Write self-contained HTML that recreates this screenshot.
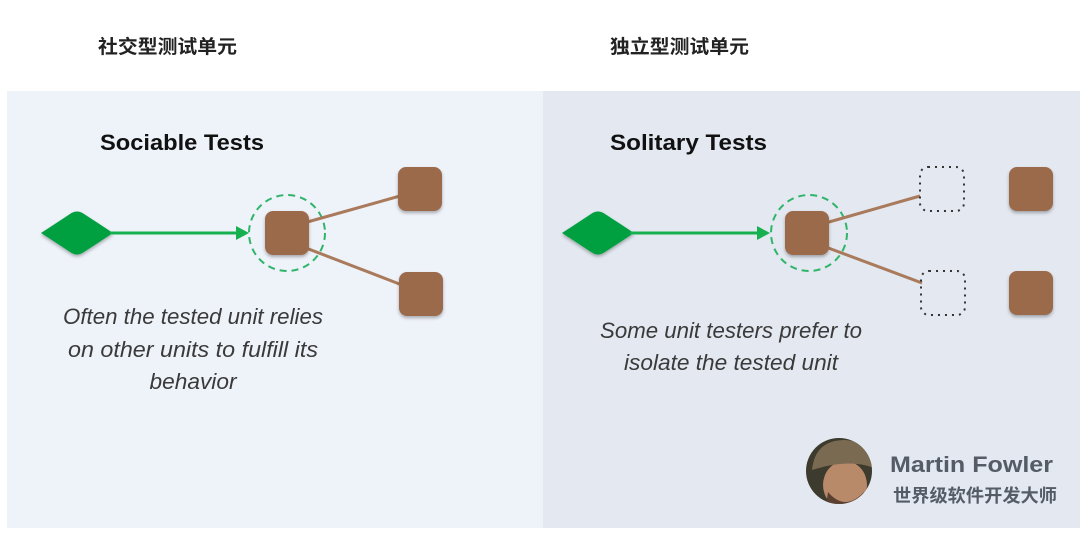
<!DOCTYPE html>
<html><head><meta charset="utf-8"><style>
html,body{margin:0;padding:0;background:#fff;}
svg{display:block;}
</style></head><body>
<svg width="1089" height="544" viewBox="0 0 1089 544" xmlns="http://www.w3.org/2000/svg">
<defs>
<filter id="sh" x="-30%" y="-30%" width="160%" height="170%"><feDropShadow dx="0" dy="2" stdDeviation="1.5" flood-color="#000" flood-opacity="0.3"/></filter>
<clipPath id="pc"><circle cx="839" cy="471" r="33"/></clipPath>
</defs>
<rect x="0" y="0" width="1089" height="544" fill="#fff"/>
<rect x="7" y="91" width="536" height="437" fill="#eef2f9"/>
<rect x="543" y="91" width="537" height="437" fill="#e3e8f1"/>
<g font-family="'Liberation Sans','Noto Sans CJK SC',sans-serif" font-weight="bold" font-size="19" fill="#222">
<text x="98" y="53" textLength="139" lengthAdjust="spacingAndGlyphs">社交型测试单元</text>
<text x="610" y="53" textLength="139" lengthAdjust="spacingAndGlyphs">独立型测试单元</text>
</g>
<g font-family="'Liberation Sans',sans-serif" font-weight="bold" font-size="22" fill="#111">
<text x="100" y="150" textLength="164" lengthAdjust="spacingAndGlyphs">Sociable Tests</text>
<text x="610" y="150" textLength="157" lengthAdjust="spacingAndGlyphs">Solitary Tests</text>
</g>
<!-- left diagram -->
<path d="M41 233 Q58 222 70 214 Q77 209 84 214 Q98 223 113 233 Q98 243 84 252 Q77 257 70 252 Q58 244 41 233Z" fill="#06a040" filter="url(#sh)"/>
<line x1="110" y1="233" x2="236" y2="233" stroke="#17b04f" stroke-width="3"/>
<polygon points="236,226 249,233 236,240" fill="#17b04f"/>
<circle cx="287" cy="233" r="38" fill="none" stroke="#2fb56a" stroke-width="2" stroke-dasharray="7,5"/>
<line x1="293" y1="226" x2="400" y2="196" stroke="#a97a5b" stroke-width="3"/>
<line x1="293" y1="243" x2="402" y2="285" stroke="#a97a5b" stroke-width="3"/>
<rect x="265" y="211" width="44" height="44" rx="8" fill="#9b6a4c" filter="url(#sh)"/>
<rect x="398" y="167" width="44" height="44" rx="8" fill="#9b6a4c" filter="url(#sh)"/>
<rect x="399" y="272" width="44" height="44" rx="8" fill="#9b6a4c" filter="url(#sh)"/>
<!-- right diagram -->
<path d="M562 233 Q579 222 591 214 Q598 209 605 214 Q619 223 634 233 Q619 243 605 252 Q598 257 591 252 Q579 244 562 233Z" fill="#06a040" filter="url(#sh)"/>
<line x1="630" y1="233" x2="757" y2="233" stroke="#17b04f" stroke-width="3"/>
<polygon points="757,226 770,233 757,240" fill="#17b04f"/>
<circle cx="809" cy="233" r="38" fill="none" stroke="#2fb56a" stroke-width="2" stroke-dasharray="7,5"/>
<line x1="815" y1="226" x2="920" y2="196" stroke="#a97a5b" stroke-width="3"/>
<line x1="815" y1="243" x2="922" y2="283" stroke="#a97a5b" stroke-width="3"/>
<rect x="785" y="211" width="44" height="44" rx="8" fill="#9b6a4c" filter="url(#sh)"/>
<rect x="920" y="167" width="44" height="44" rx="8" fill="none" stroke="#333" stroke-width="2" stroke-dasharray="2,5"/>
<rect x="921" y="271" width="44" height="44" rx="8" fill="none" stroke="#333" stroke-width="2" stroke-dasharray="2,5"/>
<rect x="1009" y="167" width="44" height="44" rx="8" fill="#9b6a4c" filter="url(#sh)"/>
<rect x="1009" y="271" width="44" height="44" rx="8" fill="#9b6a4c" filter="url(#sh)"/>
<!-- italic text -->
<g font-family="'Liberation Sans',sans-serif" font-style="italic" font-size="22" fill="#3a3a3a" text-anchor="middle">
<text x="193" y="324" textLength="260" lengthAdjust="spacingAndGlyphs">Often the tested unit relies</text>
<text x="193" y="357" textLength="250" lengthAdjust="spacingAndGlyphs">on other units to fulfill its</text>
<text x="193" y="389" textLength="87" lengthAdjust="spacingAndGlyphs">behavior</text>
<text x="731" y="338" textLength="262" lengthAdjust="spacingAndGlyphs">Some unit testers prefer to</text>
<text x="731" y="370" textLength="214" lengthAdjust="spacingAndGlyphs">isolate the tested unit</text>
</g>
<!-- avatar -->
<g clip-path="url(#pc)">
<rect x="806" y="438" width="66" height="66" fill="#3d3a2e"/>
<ellipse cx="845" cy="485" rx="22" ry="24" fill="#b98a6a"/>
<path d="M812 470 Q815 440 845 440 Q872 442 874 468 Q850 458 812 470Z" fill="#7a6a52"/>
<path d="M828 492 Q845 512 864 492 L866 506 L826 506Z" fill="#5a4030"/>
</g>
<text x="890" y="472" font-family="'Liberation Sans',sans-serif" font-weight="bold" font-size="22" fill="#555c66" textLength="163" lengthAdjust="spacingAndGlyphs">Martin Fowler</text>
<text x="893" y="502" font-family="'Liberation Sans','Noto Sans CJK SC',sans-serif" font-weight="bold" font-size="18" fill="#555c66" textLength="164" lengthAdjust="spacingAndGlyphs">世界级软件开发大师</text>
</svg>
</body></html>
